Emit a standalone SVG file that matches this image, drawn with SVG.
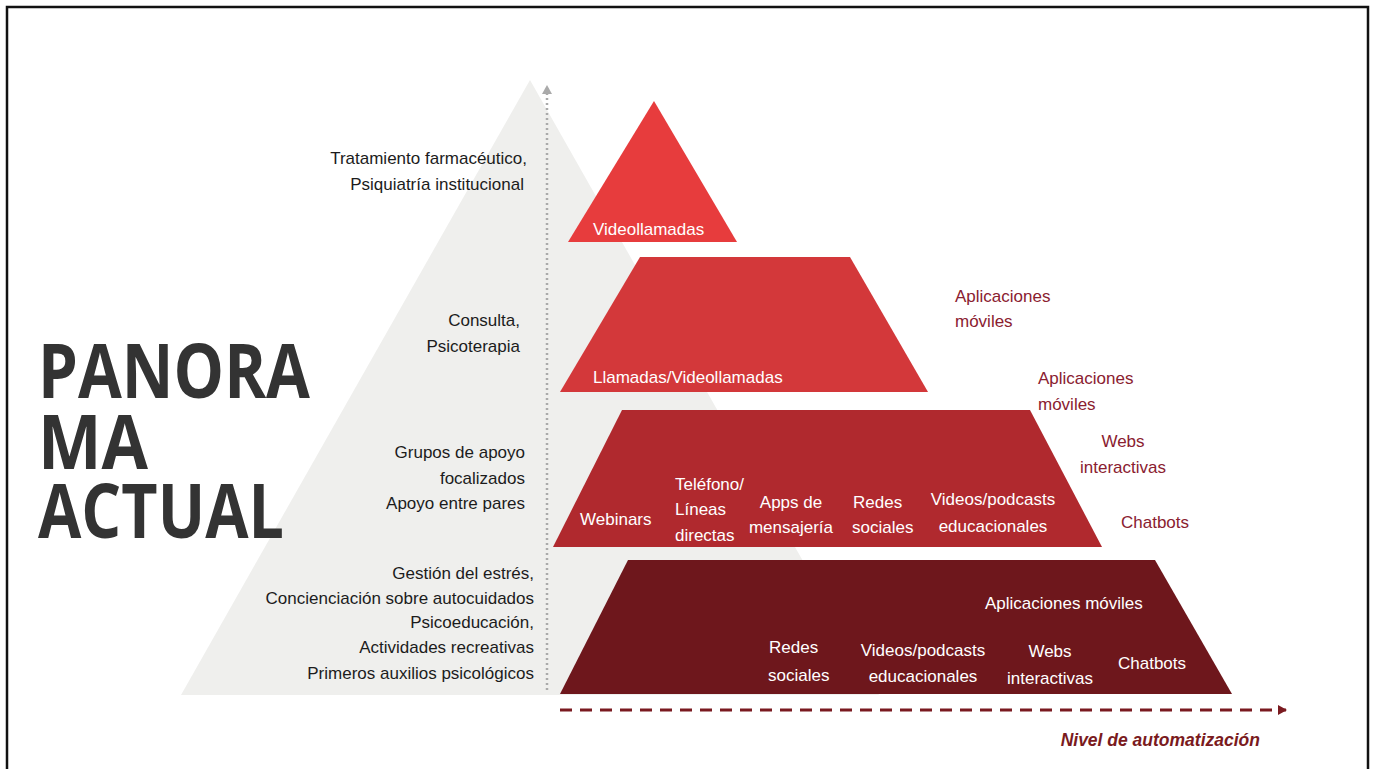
<svg xmlns="http://www.w3.org/2000/svg" width="1374" height="769" viewBox="0 0 1374 769">
<style>
.lbl{font-family:"Liberation Sans",Arial,sans-serif;font-size:17px;fill:#1c1c1c;text-anchor:end}
.w{font-family:"Liberation Sans",Arial,sans-serif;font-size:17px;fill:#ffffff}
.r{font-family:"Liberation Sans",Arial,sans-serif;font-size:17px;fill:#8a2030}
.big{font-family:"Open Sans","DejaVu Sans",sans-serif;font-weight:bold;font-size:75px;fill:#333333}
.mid{text-anchor:middle}
</style>
<defs>
<marker id="ah" markerWidth="10" markerHeight="10" refX="8" refY="5" orient="auto" markerUnits="userSpaceOnUse">
<path d="M0,0 L9,5 L0,10 Z" fill="#7a1a20"/>
</marker>
<marker id="ahg" markerWidth="10" markerHeight="10" refX="6" refY="5" orient="auto" markerUnits="userSpaceOnUse">
<path d="M0,0 L9,5 L0,10 Z" fill="#aaaaaa"/>
</marker>
</defs>
<rect x="0" y="0" width="1374" height="769" fill="#ffffff"/>
<rect x="7" y="7" width="1361" height="790" fill="none" stroke="#111111" stroke-width="2.5"/>

<g id="background-triangle">
<polygon points="530,80 181,695 879,695" fill="#efefed"/>
</g>

<g id="title">
<text class="big" x="38" y="398" textLength="272" lengthAdjust="spacingAndGlyphs">PANORA</text>
<text class="big" x="38" y="469" textLength="110" lengthAdjust="spacingAndGlyphs">MA</text>
<text class="big" x="38" y="538" textLength="246" lengthAdjust="spacingAndGlyphs">ACTUAL</text>
</g>

<g id="connectors">
<line x1="547" y1="690" x2="547" y2="88" stroke="#aaaaaa" stroke-width="2.5" stroke-dasharray="2,3" marker-end="url(#ahg)"/>
<line x1="560" y1="710" x2="1286" y2="710" stroke="#7a1a20" stroke-width="3" stroke-dasharray="12,8" marker-end="url(#ah)"/>
</g>

<g id="left-labels">
<text class="lbl" x="527" y="164">Tratamiento farmacéutico,</text>
<text class="lbl" x="524" y="190">Psiquiatría institucional</text>
<text class="lbl" x="520" y="326">Consulta,</text>
<text class="lbl" x="520" y="352">Psicoterapia</text>
<text class="lbl" x="525" y="458">Grupos de apoyo</text>
<text class="lbl" x="525" y="484">focalizados</text>
<text class="lbl" x="525" y="509">Apoyo entre pares</text>
<text class="lbl" x="534" y="579">Gestión del estrés,</text>
<text class="lbl" x="534" y="604">Concienciación sobre autocuidados</text>
<text class="lbl" x="534" y="628">Psicoeducación,</text>
<text class="lbl" x="534" y="653">Actividades recreativas</text>
<text class="lbl" x="534" y="679">Primeros auxilios psicológicos</text>
</g>

<g id="level1">
<polygon points="654,101 568,242 737,242" fill="#e73c3d"/>
<text class="w" x="593" y="235">Videollamadas</text>
</g>

<g id="level2">
<polygon points="640,257 850,257 928,392 560,392" fill="#d3383a"/>
<text class="w" x="593" y="383">Llamadas/Videollamadas</text>
</g>

<g id="level3">
<polygon points="622,410 1030,410 1102,547 553,547" fill="#b0292e"/>
<text class="w" x="580" y="525">Webinars</text>
<text class="w" x="675" y="490">Teléfono/</text>
<text class="w" x="675" y="515">Líneas</text>
<text class="w" x="675" y="541">directas</text>
<text class="w mid" x="791" y="508">Apps de</text>
<text class="w mid" x="791" y="533">mensajería</text>
<text class="w" x="853" y="508">Redes</text>
<text class="w" x="852" y="533">sociales</text>
<text class="w mid" x="993" y="505">Videos/podcasts</text>
<text class="w mid" x="993" y="532">educacionales</text>
</g>

<g id="level4">
<polygon points="628,560 1155,560 1232,694 560,694" fill="#6e171c"/>
<text class="w" x="985" y="609">Aplicaciones móviles</text>
<text class="w" x="769" y="653">Redes</text>
<text class="w" x="768" y="681">sociales</text>
<text class="w mid" x="923" y="656">Videos/podcasts</text>
<text class="w mid" x="923" y="682">educacionales</text>
<text class="w mid" x="1050" y="657">Webs</text>
<text class="w mid" x="1050" y="684">interactivas</text>
<text class="w" x="1118" y="669">Chatbots</text>
</g>

<g id="right-labels">
<text class="r" x="955" y="302">Aplicaciones</text>
<text class="r" x="955" y="327">móviles</text>
<text class="r" x="1038" y="384">Aplicaciones</text>
<text class="r" x="1038" y="410">móviles</text>
<text class="r mid" x="1123" y="447">Webs</text>
<text class="r mid" x="1123" y="473">interactivas</text>
<text class="r" x="1121" y="528">Chatbots</text>
</g>

<g id="axis-label">
<text x="1260" y="746" text-anchor="end" style="font-family:'Liberation Sans',Arial,sans-serif;font-size:17.5px;font-weight:bold;font-style:italic;fill:#7a1a20">Nivel de automatización</text>
</g>
</svg>
